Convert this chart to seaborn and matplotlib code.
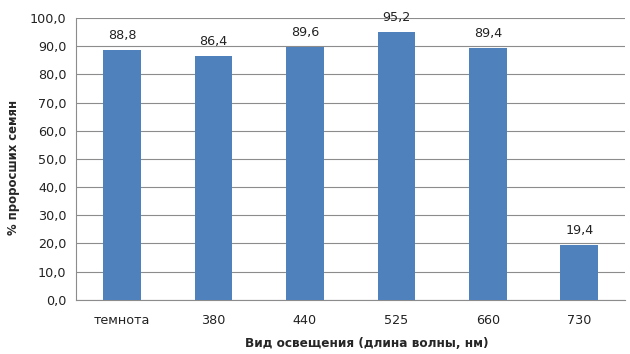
import matplotlib
matplotlib.use("Agg")
import matplotlib.pyplot as plt
import seaborn as sns
import pandas as pd

categories = ["темнота", "380", "440", "525", "660", "730"]
germination = [88.8, 86.4, 89.6, 95.2, 89.4, 19.4]
y_ticks = [0, 10, 20, 30, 40, 50, 60, 70, 80, 90, 100]

df = pd.DataFrame({"light": categories, "value": germination})

sns.set_style("white")
plt.rcParams["font.family"] = ["DejaVu Sans"]

fig = plt.figure(figsize=(6.3, 3.54), dpi=100)
ax = fig.add_axes([0.121, 0.153, 0.871, 0.796])

sns.barplot(data=df, x="light", y="value", color="#4F81BD", saturation=1,
            width=0.41, linewidth=0, ax=ax, zorder=3)

fs = 9.2
ax.set_ylim(0, 100)
ax.set_yticks(y_ticks)
ax.set_yticklabels([f"{v:.1f}".replace(".", ",") for v in y_ticks])
ax.yaxis.grid(True, color="#8C8C8C", linewidth=0.8, zorder=0)
ax.set_axisbelow(True)
ax.tick_params(axis="y", length=5, color="#8C8C8C", labelsize=fs, pad=2, labelcolor="#222222")
ax.tick_params(axis="x", length=0, labelsize=fs, pad=10, labelcolor="#222222")

for s in ["top", "right"]:
    ax.spines[s].set_visible(False)
for s in ["left", "bottom"]:
    ax.spines[s].set_color("#8C8C8C")
    ax.spines[s].set_linewidth(0.8)

for i, v in enumerate(germination):
    ax.text(i, v + 2.8, f"{v:.1f}".replace(".", ","), ha="center", va="bottom",
            fontsize=fs, color="#222222")

ax.set_xlabel("Вид освещения (длина волны, нм)", fontsize=8.7, fontweight="bold")
ax.set_ylabel("% проросших семян", fontsize=8.4, fontweight="bold")
ax.xaxis.set_label_coords(0.53, -0.133)
ax.yaxis.set_label_coords(-0.102, 0.47)

fig.savefig("out.png", dpi=100)
